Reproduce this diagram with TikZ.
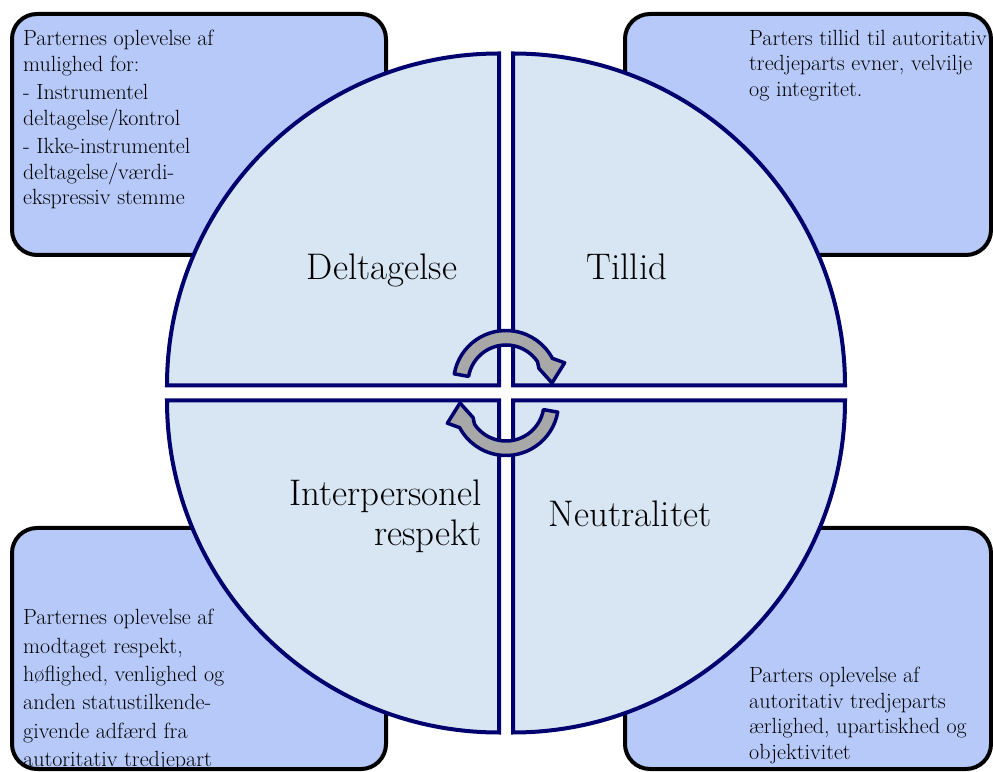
\documentclass[tikz,border=0pt]{standalone}
\usepackage{fontspec}
\usepackage{tikz}
\definecolor{navy}{RGB}{0,0,110}
\definecolor{boxblue}{RGB}{182,201,248}
\definecolor{wheelblue}{RGB}{216,230,244}
\definecolor{turngray}{RGB}{168,168,168}

\begin{document}
\begin{tikzpicture}[x=1pt,y=1pt,
  infobox/.style={draw=black, line width=4pt, fill=boxblue, rounded corners=25pt},
  quad/.style={draw=navy, line width=4pt, fill=wheelblue},
  turn/.style={draw=navy, line width=3.5pt, fill=turngray, line join=round},
  info/.style={inner sep=0pt, align=left, font=\fontsize{22}{25.5}\selectfont},
  lab/.style={inner sep=0pt, font=\fontsize{37}{40}\selectfont}]
\useasboundingbox (0,0) rectangle (993,771);

% the four boxes
\foreach \x/\y/\w in {12/516/374, 625/516/366, 12/2/374, 625/2/366}{
\draw[infobox] (\x,\y) rectangle ++(\w,241);}

\node[info, anchor=north west] (partbox) at (23,741) {Parternes oplevelse af\\
mulighed for:\\[3pt]
- Instrumentel\\
deltagelse/kontrol\\[3pt]
- Ikke-instrumentel\\
deltagelse/værdi-\\
ekspressiv stemme};
\node[info, anchor=north west] (tilbox) at (749,741) {Parters tillid til autoritativ\\
tredjeparts evner, velvilje\\
og integritet.};
\node[info, anchor=north west, font=\fontsize{22}{28.4}\selectfont] (respbox) at (23,162) {Parternes oplevelse af\\
modtaget respekt,\\
høflighed, venlighed og\\
anden statustilkende-\\
givende adfærd fra\\
autoritativ tredjepart};
\node[info, anchor=north west] (neutbox) at (749,104) {Parters oplevelse af\\
autoritativ tredjeparts\\
ærlighed, upartiskhed og\\
objektivitet};

% the wheel
\foreach \cx/\cy/\a in {499/385.5/180, 513/385.5/90, 513/370.5/0, 499/370.5/-90}{
\draw[quad] (\cx,\cy) -- ++(\a:332) arc (\a:\a-90:332) -- cycle;}

\node[lab, anchor=base] (delt) at (382,491) {Deltagelse};
\node[lab, anchor=base] (till) at (627,491) {Tillid};
\node[lab, anchor=north east, align=right] (inter) at (482,291) {Interpersonel\\respekt};
\node[lab, anchor=base] (neut) at (630,244) {Neutralitet};

% turning arrows
\foreach \cy/\r in {388/0, 368/180}{
\begin{scope}[shift={(506,\cy)}, rotate=\r]
\draw[turn] (170:38) -- (170:52.5) arc (170:28:52.5) -- (19:62) -- (0:46) -- (24:36) -- (34:38) arc (34:170:38) -- cycle;
\end{scope}}

\end{tikzpicture}
\end{document}
